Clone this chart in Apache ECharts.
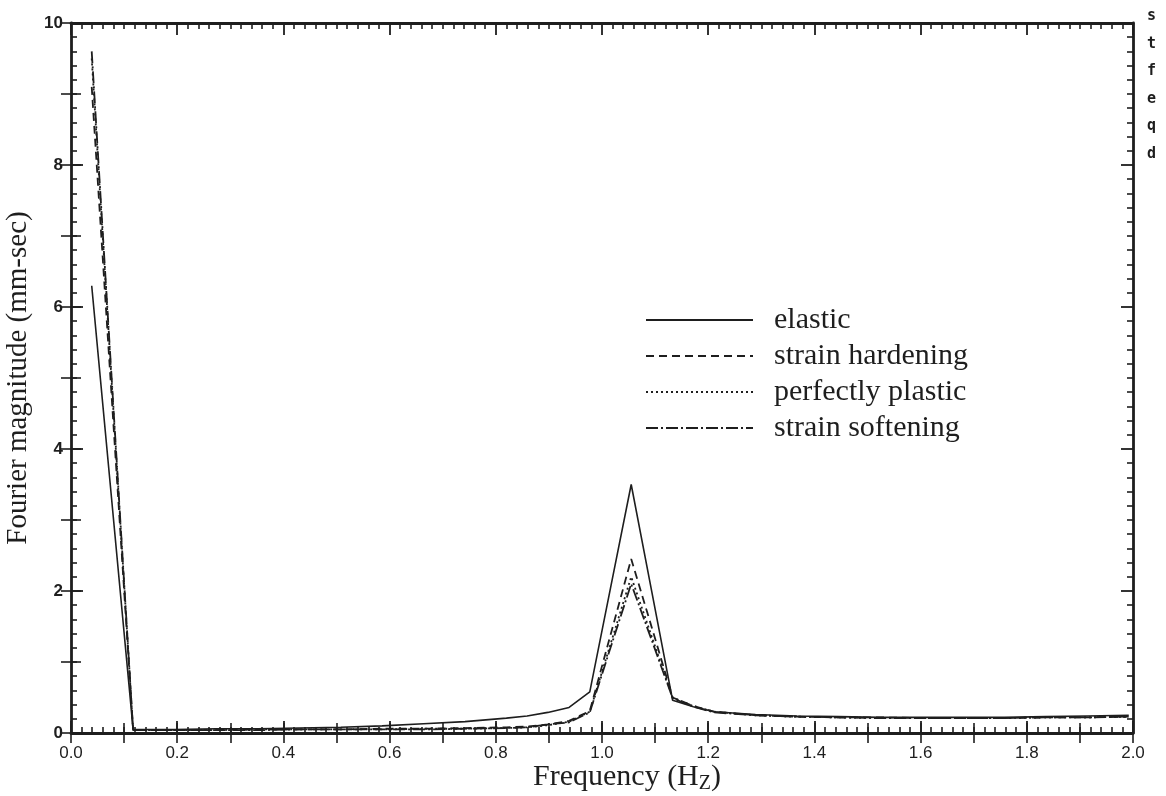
<!DOCTYPE html>
<html>
<head>
<meta charset="utf-8">
<script src="https://cdn.jsdelivr.net/npm/echarts@6/dist/echarts.min.js"></script>
<style>
  html, body { margin: 0; padding: 0; background: #fff; }
  #chart { width: 1166px; height: 796px; }
</style>
</head>
<body>
<div id="chart"></div>
<script>
// Frequency samples (Hz) shared by all four responses
const freq = [0.039, 0.117, 0.195, 0.273, 0.352, 0.430, 0.508, 0.586, 0.664, 0.742,
              0.820, 0.859, 0.898, 0.938, 0.977, 1.016, 1.055, 1.094, 1.133, 1.172,
              1.211, 1.289, 1.367, 1.445, 1.523, 1.602, 1.680, 1.758, 1.836, 1.914, 1.992];

// Fourier magnitude (mm-sec) for each material model
const elastic = [6.30, 0.05, 0.05, 0.06, 0.06, 0.07, 0.08, 0.10, 0.13, 0.16,
                 0.21, 0.24, 0.29, 0.36, 0.58, 2.04, 3.50, 1.98, 0.46, 0.37,
                 0.30, 0.26, 0.24, 0.23, 0.22, 0.22, 0.22, 0.22, 0.23, 0.24, 0.25];
const strainHardening = [9.10, 0.04, 0.04, 0.04, 0.05, 0.05, 0.05, 0.06, 0.06, 0.07,
                         0.08, 0.09, 0.12, 0.17, 0.31, 1.38, 2.45, 1.48, 0.50, 0.38,
                         0.30, 0.25, 0.23, 0.22, 0.22, 0.21, 0.21, 0.21, 0.22, 0.22, 0.23];
const perfectlyPlastic = [9.50, 0.04, 0.04, 0.04, 0.05, 0.05, 0.05, 0.05, 0.06, 0.06,
                          0.07, 0.08, 0.11, 0.16, 0.30, 1.25, 2.20, 1.35, 0.50, 0.38,
                          0.30, 0.25, 0.23, 0.22, 0.21, 0.21, 0.21, 0.21, 0.22, 0.22, 0.23];
const strainSoftening = [9.60, 0.04, 0.04, 0.04, 0.04, 0.05, 0.05, 0.05, 0.05, 0.06,
                         0.07, 0.08, 0.12, 0.15, 0.29, 1.20, 2.10, 1.30, 0.49, 0.37,
                         0.29, 0.25, 0.23, 0.22, 0.21, 0.21, 0.21, 0.21, 0.22, 0.22, 0.23];

const seriesNames = ['elastic', 'strain hardening', 'perfectly plastic', 'strain softening'];
const seriesValues = [elastic, strainHardening, perfectlyPlastic, strainSoftening];
const dashTypes = ['solid', [8, 5], [2, 3], [12, 3, 2, 3]];

// Letters printed down the right margin
const marginLetters = ['s', 't', 'f', 'e', 'q', 'd'];

const INK = '#1e1e1e';
const SERIF = '"Liberation Serif", "DejaVu Serif", serif';
const SANS = '"Liberation Sans", "DejaVu Sans", sans-serif';

function pairs(values) {
  return values.map((v, i) => [freq[i], v]);
}

// Framing axes: long ticks at the labelled values plus short minor ticks
function frameAxis(extra) {
  return Object.assign({
    type: 'value',
    gridIndex: 0,
    splitLine: { show: false },
    axisLine: { show: true, onZero: false, lineStyle: { color: INK, width: 2.8 } },
    axisTick: { show: true, inside: true, length: 12, lineStyle: { color: INK, width: 1.8 } },
    minorTick: { show: true, splitNumber: 10, length: 6, lineStyle: { color: INK, width: 1.6 } },
    axisLabel: { show: false }
  }, extra);
}

// Overlay axes that add the medium ticks halfway between labels
function midTickAxis(extra) {
  return Object.assign({
    type: 'value',
    gridIndex: 0,
    splitLine: { show: false },
    axisLine: { show: false },
    axisTick: { show: true, inside: true, length: 10, lineStyle: { color: INK, width: 1.6 } },
    axisLabel: { show: false }
  }, extra);
}

const chart = echarts.init(document.getElementById('chart'));

chart.setOption({
  backgroundColor: '#fff',
  animation: false,
  grid: { left: 71, right: 33, top: 23, bottom: 63, containLabel: false, outerBoundsMode: 'none' },
  xAxis: [
    frameAxis({
      position: 'bottom', min: 0, max: 2, interval: 0.2,
      axisLabel: {
        show: true, color: INK, fontFamily: SANS, fontSize: 17, margin: 12,
        formatter: v => v.toFixed(1)
      },
      name: '{a|Frequency (H}{s|Z}{a|)}',
      nameLocation: 'middle',
      nameGap: 27,
      nameMoveOverlap: false,
      nameTextStyle: {
        padding: [0, 0, 0, 50],
        rich: {
          a: { fontFamily: SERIF, fontSize: 30, color: INK },
          s: { fontFamily: SERIF, fontSize: 20, color: INK, padding: [14, 0, 0, 0] }
        }
      }
    }),
    frameAxis({ position: 'top', min: 0, max: 2, interval: 0.2 }),
    midTickAxis({ position: 'bottom', min: 0, max: 2, interval: 0.1 }),
    midTickAxis({ position: 'top', min: 0, max: 2, interval: 0.1 })
  ],
  yAxis: [
    frameAxis({
      position: 'left', min: 0, max: 10, interval: 2,
      axisLabel: { show: true, color: INK, fontFamily: SANS, fontSize: 17, fontWeight: 'bold', margin: 8 },
      name: 'Fourier magnitude (mm-sec)',
      nameLocation: 'middle',
      nameGap: 34,
      nameRotate: 90,
      nameTextStyle: { fontFamily: SERIF, fontSize: 29, color: INK }
    }),
    frameAxis({ position: 'right', min: 0, max: 10, interval: 2 }),
    midTickAxis({ position: 'left', min: 0, max: 10, interval: 1 }),
    midTickAxis({ position: 'right', min: 0, max: 10, interval: 1 })
  ],
  legend: {
    orient: 'vertical',
    left: 640,
    top: 300,
    itemWidth: 107,
    itemHeight: 14,
    itemGap: 6,
    selectedMode: false,
    data: seriesNames,
    itemStyle: { color: 'transparent', borderWidth: 0 },
    textStyle: { fontFamily: SERIF, fontSize: 30, color: INK, padding: [0, 0, 0, 16] }
  },
  series: seriesNames.map((name, i) => ({
    name: name,
    type: 'line',
    xAxisIndex: 0,
    yAxisIndex: 0,
    symbol: 'none',
    data: pairs(seriesValues[i]),
    lineStyle: { color: INK, width: i === 0 ? 1.6 : 1.8, type: dashTypes[i] },
    itemStyle: { color: INK },
    z: 3
  })),
  graphic: marginLetters.map((ch, i) => ({
    type: 'text',
    left: 1147,
    top: 9 + i * 27.5,
    style: { text: ch, font: 'bold 15px "DejaVu Sans Mono", monospace', fill: INK }
  }))
});
</script>
</body>
</html>
